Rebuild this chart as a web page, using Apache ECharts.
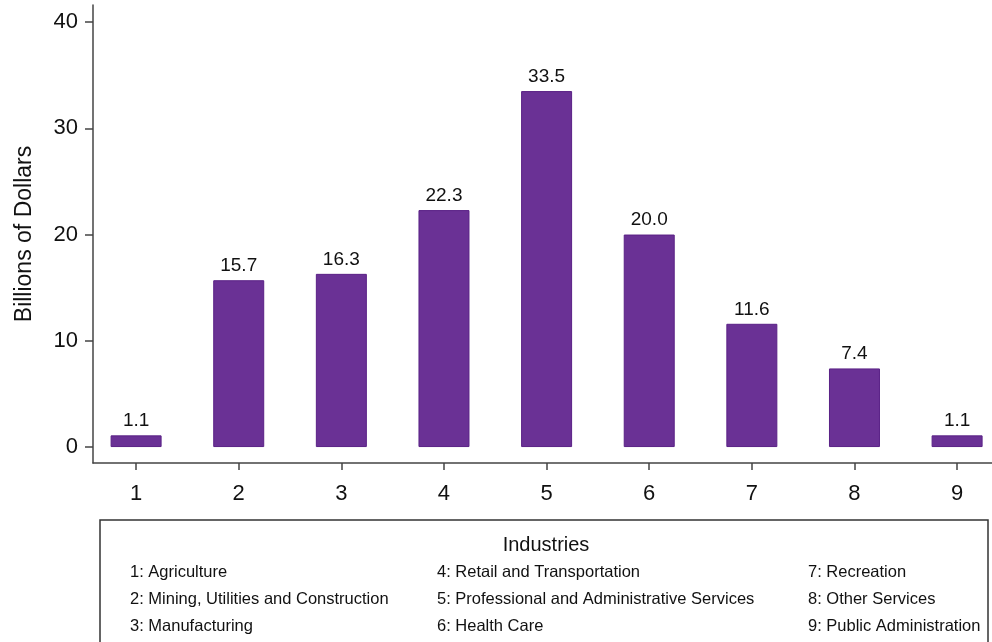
<!DOCTYPE html>
<html>
<head>
<meta charset="utf-8">
<script src="https://cdn.jsdelivr.net/npm/echarts@6/dist/echarts.min.js"></script>
<style>
  html, body { margin: 0; padding: 0; background: #fff; }
  #chart { width: 992px; height: 642px; }
</style>
</head>
<body>
<div id="chart"></div>
<script>
// industry codes on the x axis and spending per industry
const industryCodes = [1, 2, 3, 4, 5, 6, 7, 8, 9]
const spending = [1.1, 15.7, 16.3, 22.3, 33.5, 20.0, 11.6, 7.4, 1.1]
const yTicks = [0, 10, 20, 30, 40]
const industryNames = [
    'Agriculture',
    'Mining, Utilities and Construction',
    'Manufacturing',
    'Retail and Transportation',
    'Professional and Administrative Services',
    'Health Care',
    'Recreation',
    'Other Services',
    'Public Administration'
]

const font = '"Liberation Sans", Arial, sans-serif'
const barColor = '#6A3195'

const chartDom = document.getElementById('chart')
const myChart = echarts.init(chartDom)

// legend box under the chart
const colX = [130, 437, 808]
const rowY = [572, 599, 626]
const legendItems = [{
    type: 'rect',
    shape: { x: 100, y: 520, width: 888, height: 140 },
    style: { fill: '#fff', stroke: '#333', lineWidth: 1.5 }
}, {
    type: 'text',
    x: 546, y: 545,
    style: {
        text: 'Industries', font: '20px ' + font, fill: '#111',
        textAlign: 'center', textVerticalAlign: 'middle'
    }
}]
industryNames.forEach((name, i) => {
    legendItems.push({
        type: 'text',
        x: colX[Math.floor(i / 3)],
        y: rowY[i % 3],
        style: {
            text: industryCodes[i] + ': ' + name,
            font: '16.5px ' + font, fill: '#111',
            textAlign: 'left', textVerticalAlign: 'middle'
        }
    })
})

myChart.setOption({
    animation: false,
    textStyle: { fontFamily: font },
    grid: { left: 93, right: 0, top: 5, bottom: 179, containLabel: false, outerBoundsMode: 'none' },
    xAxis: {
        type: 'value',
        min: 0.58,
        max: 9.34,
        splitLine: { show: false },
        axisLine: { show: true, onZero: false, lineStyle: { color: '#444', width: 1.5 } },
        axisTick: { show: true, length: 7, customValues: industryCodes, lineStyle: { color: '#444', width: 1.5 } },
        axisLabel: { color: '#111', fontSize: 22, margin: 20, customValues: industryCodes }
    },
    yAxis: {
        type: 'value',
        min: -1.5,
        max: 41.6,
        name: 'Billions of Dollars',
        nameLocation: 'middle',
        nameGap: 57,
        nameTextStyle: { color: '#111', fontSize: 23 },
        splitLine: { show: false },
        axisLine: { show: true, onZero: false, lineStyle: { color: '#444', width: 1.5 } },
        axisTick: { show: true, length: 8, customValues: yTicks, lineStyle: { color: '#444', width: 1.5 } },
        axisLabel: { color: '#111', fontSize: 22, margin: 15, customValues: yTicks }
    },
    series: [{
        type: 'bar',
        barWidth: 51,
        data: industryCodes.map((c, i) => [c, spending[i]]),
        itemStyle: { color: barColor, borderColor: '#5A2186', borderWidth: 1 },
        label: {
            show: true,
            position: 'top',
            distance: 5,
            color: '#111',
            fontSize: 19,
            formatter: p => p.value[1].toFixed(1)
        }
    }],
    graphic: legendItems
})
</script>
</body>
</html>
